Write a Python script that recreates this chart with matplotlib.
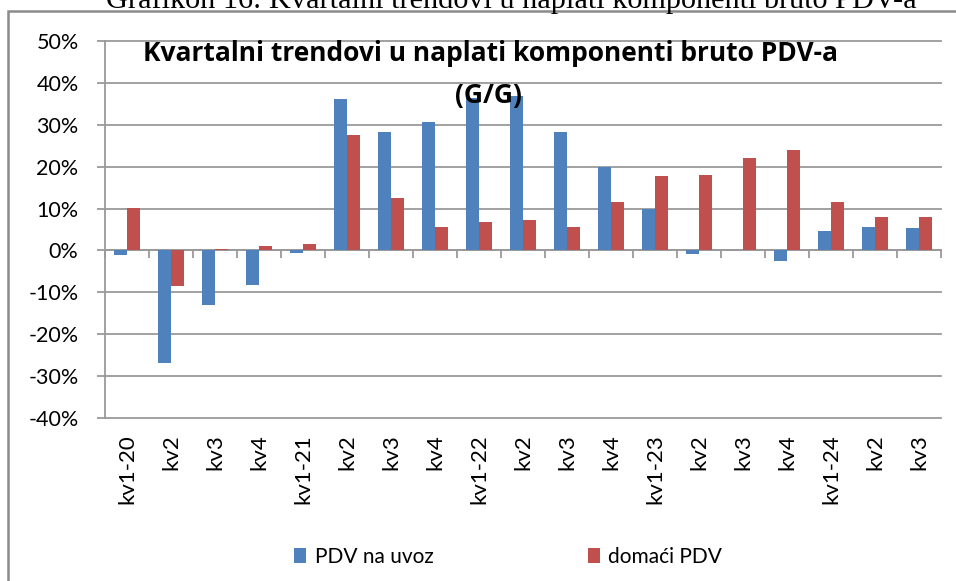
import numpy as np
import matplotlib
matplotlib.use('Agg')
import matplotlib.pyplot as plt
from matplotlib.patches import Rectangle
from matplotlib.ticker import FuncFormatter

# quarters and the two series (G/G change, %)
kvartali = ['kv1-20', 'kv2', 'kv3', 'kv4',
            'kv1-21', 'kv2', 'kv3', 'kv4',
            'kv1-22', 'kv2', 'kv3', 'kv4',
            'kv1-23', 'kv2', 'kv3', 'kv4',
            'kv1-24', 'kv2', 'kv3']
pdv_uvoz = [-1.0, -26.8, -13.0, -8.2,
            -0.5, 36.1, 28.2, 30.6,
            36.5, 36.8, 28.2, 20.0,
            10.0, -0.8, 0.0, -2.6,
            4.7, 5.6, 5.3]
domaci_pdv = [10.1, -8.5, 0.4, 1.0,
              1.6, 27.5, 12.6, 5.6,
              6.8, 7.3, 5.6, 11.6,
              17.7, 18.1, 22.1, 23.9,
              11.6, 8.0, 8.0]
y_ticks = [-40, -30, -20, -10, 0, 10, 20, 30, 40, 50]

blue = '#4F81BD'
red = '#C0504D'
grid_col = '#9A9A9A'

W, H = 956, 581
fig = plt.figure(figsize=(W / 100, H / 100), dpi=100)
ax = fig.add_axes([105 / W, 1 - 418 / H, (941 - 105) / W, (418 - 41) / H])

x = np.arange(len(kvartali))
w = 0.285
ax.bar(x - w / 2, pdv_uvoz, w, color=blue, label='PDV na uvoz', zorder=3)
ax.bar(x + w / 2, domaci_pdv, w, color=red, label='domaći PDV', zorder=3)

ax.set_xlim(-0.5, len(kvartali) - 0.5)
ax.set_ylim(-40, 50)
ax.set_yticks(y_ticks)
ax.yaxis.set_major_formatter(FuncFormatter(lambda v, p: f'{v:.0f}%'))
ax.yaxis.grid(True, color=grid_col, lw=1.3, zorder=0)
for t in ax.yaxis.get_gridlines():
    t.set_clip_on(False)

ax.set_xticks(x)
ax.set_xticklabels(kvartali, rotation=90, fontfamily='Lato', fontsize=16, va='top')
ax.tick_params(axis='x', length=0, pad=12, colors='black')
ax.tick_params(axis='y', length=6, width=1.3, color=grid_col, pad=13, labelsize=15.5)
for lab in ax.get_yticklabels():
    lab.set_fontfamily('Lato')

for s in ['top', 'right', 'bottom']:
    ax.spines[s].set_visible(False)
ax.spines['left'].set_color(grid_col)
ax.spines['left'].set_linewidth(1.3)

# category axis crossing at zero, ticks at category boundaries
zero_pos = (0 - (-40)) / 90
sec = ax.secondary_xaxis(zero_pos)
sec.set_xticks(np.arange(len(kvartali) + 1) - 0.5)
sec.set_xticklabels([])
sec.tick_params(axis='x', direction='out', length=6, width=1.3, color=grid_col)
sec.spines['bottom'].set_color(grid_col)
sec.spines['bottom'].set_linewidth(1.3)

# chart title inside the plot area
fig.text(491 / W, 1 - 61 / H, 'Kvartalni trendovi u naplati komponenti bruto PDV-a',
         ha='center', va='baseline', fontfamily='Open Sans', fontweight='bold', fontsize=19)
fig.text(488 / W, 1 - 103 / H, '(G/G)',
         ha='center', va='baseline', fontfamily='Open Sans', fontweight='bold', fontsize=19)

# caption of the document, cut by the page edge
fig.text(511 / W, 1 - 7.5 / H, 'Grafikon 16: Kvartalni trendovi u naplati komponenti bruto PDV-a',
         ha='center', va='baseline', fontfamily='Liberation Serif', fontsize=21.8)

# chart area border
fig.patches.append(Rectangle((8 / W, -0.1), 1.2, 1 - 10.5 / H + 0.1, transform=fig.transFigure,
                             fill=False, edgecolor='#8A8A8A', lw=1.8))

fig.legend(loc='center', bbox_to_anchor=(508 / W, 1 - 557 / H), ncol=2, frameon=False,
           prop={'family': 'Lato', 'size': 15}, handlelength=0.6, handleheight=0.7,
           handletextpad=0.4, columnspacing=7.4)

fig.savefig('out.png', dpi=100)
